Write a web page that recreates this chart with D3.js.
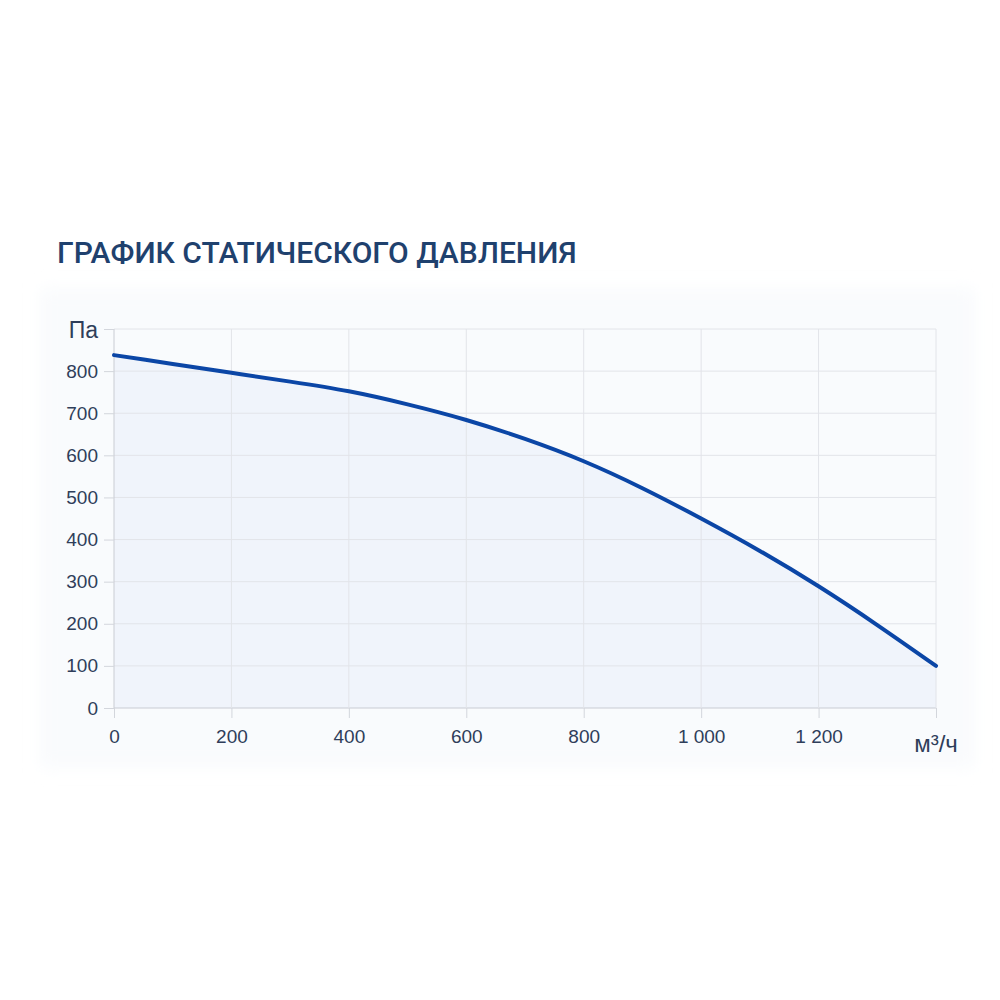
<!DOCTYPE html>
<html><head><meta charset="utf-8">
<script src="https://cdn.jsdelivr.net/npm/d3@7"></script>
<style>body{margin:0;background:#fff}svg{display:block}</style>
</head><body>
<svg id="c" width="1000" height="1000"></svg>
<script>
const title = "ГРАФИК СТАТИЧЕСКОГО ДАВЛЕНИЯ";
const airflow = [0,100,200,300,400,500,600,700,800,900,1000,1100,1200,1300,1400];
const pressure = [838,817,796,775,752,721,684,639,586,522,450,373,289,197,100];
const xTicks = [0,200,400,600,800,1000,1200];
const yTicks = [0,100,200,300,400,500,600,700,800];
const xUnit = "м³/ч";
const yUnit = "Па";

const svg = d3.select("#c");
const defs = svg.append("defs");
const f = defs.append("filter").attr("id","blur").attr("x","-10%").attr("y","-10%").attr("width","120%").attr("height","120%");
f.append("feGaussianBlur").attr("stdDeviation",8);
svg.append("rect").attr("x",40).attr("y",288).attr("width",935).attr("height",480)
  .attr("fill","#f9fbfd").attr("filter","url(#blur)");

svg.append("text").attr("x",57).attr("y",263).text(title)
  .attr("font-family","Roboto").attr("font-weight",500).attr("font-size",30)
  .attr("fill","#1f416e");

const x = d3.scaleLinear().domain([0,1400]).range([114,936]);
const y = d3.scaleLinear().domain([0,900]).range([708,329]);
const data = airflow.map((a,i)=>({a,p:pressure[i]}));
const curve = d3.curveNatural;

const g = svg.append("g");
// area
g.append("path").datum(data)
  .attr("d", d3.area().x(d=>x(d.a)).y0(y(0)).y1(d=>y(d.p)).curve(curve))
  .attr("fill","#f0f4fb");
// grid
g.selectAll(".hg").data(yTicks.concat([900])).join("line")
  .attr("x1",x(0)).attr("x2",x(1400)).attr("y1",d=>y(d)).attr("y2",d=>y(d))
  .attr("stroke",d=>d===0?"#c9ccd3":"#e2e4e9").attr("stroke-width",1);
g.selectAll(".vg").data(xTicks.concat([1400])).join("line")
  .attr("x1",d=>x(d)).attr("x2",d=>x(d)).attr("y1",y(900)).attr("y2",y(0))
  .attr("stroke",d=>d===0?"#c9ccd3":"#e2e4e9").attr("stroke-width",1);

// axes
const yAxis = svg.append("g").attr("transform",`translate(${x(0)},0)`)
  .call(d3.axisLeft(y).tickValues(yTicks.concat([900])).tickSize(10).tickPadding(6).tickFormat(d=>d===900?"":d));
const xAxis = svg.append("g").attr("transform",`translate(0,${y(0)})`)
  .call(d3.axisBottom(x).tickValues(xTicks.concat([1400])).tickSize(10).tickPadding(12)
    .tickFormat(d=>d===1400?"":d3.format(",")(d).replace(/,/g," ")));
[yAxis,xAxis].forEach(a=>{
  a.select(".domain").remove();
  a.selectAll(".tick line").attr("stroke","#d3d6dc");
  a.selectAll(".tick text").attr("font-family","Liberation Sans, Arial, sans-serif")
    .attr("font-size",19).attr("fill","#2f3e5a");
});
svg.append("text").attr("x",98).attr("y",338).attr("text-anchor","end").text(yUnit)
  .attr("font-family","Liberation Sans, Arial, sans-serif").attr("font-size",23).attr("fill","#2f3e5a");
svg.append("text").attr("x",936).attr("y",752).attr("text-anchor","middle").text(xUnit)
  .attr("font-family","Liberation Sans, Arial, sans-serif").attr("font-size",24).attr("fill","#2f3e5a");

// line
g.append("path").datum(data)
  .attr("d", d3.line().x(d=>x(d.a)).y(d=>y(d.p)).curve(curve))
  .attr("fill","none").attr("stroke","#0b46a6").attr("stroke-width",4).attr("stroke-linecap","round");
</script>
</body></html>
